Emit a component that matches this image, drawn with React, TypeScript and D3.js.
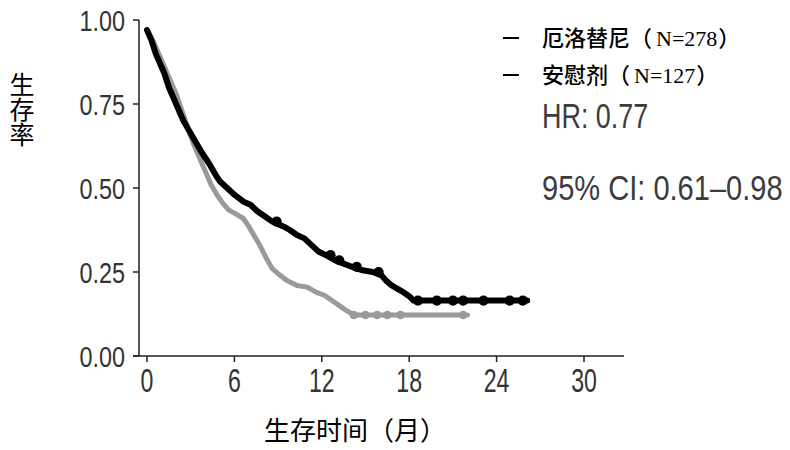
import * as d3 from 'd3'

const W = 790, H = 450

// survival time (months) / survival probability
const erloT = [0, 0.3, 0.6, 0.9, 1.2, 1.5, 1.8, 2.2, 2.5, 2.9, 3.3, 3.7, 4.0, 4.3, 4.7, 5.0, 5.5, 6.0, 6.6, 7.1, 7.6, 8.1, 8.6, 9.4, 9.8, 10.3, 10.8, 11.3, 11.8, 12.3, 12.9, 13.5, 14.1, 14.8, 15.5, 16.1, 16.4, 16.8, 17.2, 17.6, 18.0, 18.3, 26.1]
const erloS = [0.97, 0.94, 0.90, 0.87, 0.84, 0.80, 0.77, 0.73, 0.70, 0.67, 0.64, 0.61, 0.59, 0.57, 0.54, 0.52, 0.50, 0.48, 0.46, 0.45, 0.43, 0.415, 0.40, 0.385, 0.375, 0.36, 0.35, 0.33, 0.31, 0.30, 0.285, 0.275, 0.265, 0.255, 0.25, 0.24, 0.225, 0.21, 0.20, 0.19, 0.178, 0.165, 0.165]
const erloCensor = [8.9, 12.6, 13.2, 14.4, 15.9, 18.6, 19.9, 21.0, 21.7, 23.1, 24.9, 25.8]

const placT = [0, 0.4, 0.8, 1.2, 1.6, 2.0, 2.4, 2.8, 3.2, 3.6, 4.0, 4.4, 4.8, 5.2, 5.6, 6.0, 6.6, 7.0, 7.4, 7.8, 8.2, 8.6, 9.0, 9.6, 10.3, 11.0, 11.6, 12.2, 12.7, 13.2, 13.7, 14.2, 22.0]
const placS = [0.97, 0.94, 0.90, 0.86, 0.82, 0.78, 0.73, 0.68, 0.63, 0.59, 0.55, 0.51, 0.48, 0.455, 0.435, 0.425, 0.41, 0.385, 0.355, 0.325, 0.29, 0.26, 0.245, 0.225, 0.21, 0.205, 0.19, 0.18, 0.165, 0.15, 0.135, 0.122, 0.122]
const placCensor = [14.2, 15.0, 15.8, 16.5, 17.4, 21.7]

const xTicks = [0, 6, 12, 18, 24, 30]
const yTicks = [0, 0.25, 0.5, 0.75, 1]

const LEGEND = [
  { name: '厄洛替尼', n: 'N=278' },
  { name: '安慰剂', n: 'N=127' },
]
const HR_TEXT = 'HR: 0.77'
const CI_TEXT = '95% CI: 0.61–0.98'
const Y_TITLE = '生存率'
const X_TITLE = '生存时间（月）'

const NUM_FONT = 'Liberation Sans, Arial, sans-serif'
const CJK_FONT = '"Noto Sans CJK SC", "Noto Sans", sans-serif'
const SERIF = 'Liberation Serif, Times New Roman, serif'

const x = d3.scaleLinear().domain([0, 30]).range([147, 584])
const y = d3.scaleLinear().domain([0, 1]).range([356, 20])
const AXIS_X = 139

type Pt = [number, number]
const zip = (t: number[], s: number[]): Pt[] => t.map((v, i) => [v, s[i]])

// many small KM steps read as one ragged line at this size
const kmLine = d3.line<Pt>().x(d => x(d[0])).y(d => y(d[1])).curve(d3.curveLinear)

// survival value at time t on the curve
const survAt = (t: number[], s: number[], at: number) => {
  const i = d3.bisectRight(t, at) - 1
  return s[Math.max(0, i)]
}

const SERIES = [
  { t: placT, s: placS, censor: placCensor, color: '#9a9a9a', width: 5 },
  { t: erloT, s: erloS, censor: erloCensor, color: '#000', width: 6 },
]

export default function App() {
  return (
    <svg width={W} height={H} viewBox={`0 0 ${W} ${H}`}
      style={{ position: 'absolute', left: 0, top: 0, background: '#fff' }}>

      {/* ── curves ─────────────────────────────────────────────── */}
      {SERIES.map((sr, si) => (
        <g key={si}>
          <path d={kmLine(zip(sr.t, sr.s)) ?? ''} fill="none" stroke={sr.color}
            strokeWidth={sr.width} strokeLinejoin="round" strokeLinecap="round" />
          {sr.censor.map(c => (
            <circle key={c} cx={x(c)} cy={y(survAt(sr.t, sr.s, c))} r={sr.width * 0.85} fill={sr.color} />
          ))}
        </g>
      ))}

      {/* ── axes ───────────────────────────────────────────────── */}
      <line x1={AXIS_X} x2={AXIS_X} y1={y(1)} y2={y(0)} stroke="#222" strokeWidth={1.5} />
      <line x1={AXIS_X - 6} x2={x(30) + 40} y1={y(0)} y2={y(0)} stroke="#222" strokeWidth={1.5} />

      {yTicks.map(v => (
        <g key={v}>
          <line x1={AXIS_X - 6} x2={AXIS_X} y1={y(v)} y2={y(v)} stroke="#222" strokeWidth={1.5} />
          <text transform={`translate(125,${y(v) + 11}) scale(0.78,1)`} textAnchor="end"
            fontFamily={NUM_FONT} fontSize={30} fill="#333">{d3.format('.2f')(v)}</text>
        </g>
      ))}

      {xTicks.map(v => (
        <g key={v}>
          <line x1={x(v)} x2={x(v)} y1={y(0)} y2={y(0) + 6} stroke="#222" strokeWidth={1.5} />
          <text transform={`translate(${x(v)},392) scale(0.68,1)`} textAnchor="middle"
            fontFamily={NUM_FONT} fontSize={34} fill="#333">{v}</text>
        </g>
      ))}

      {/* ── axis titles ────────────────────────────────────────── */}
      <text x={22} y={72} fontFamily={CJK_FONT} fontSize={25} fill="#000"
        style={{ writingMode: 'vertical-rl' }}>{Y_TITLE}</text>
      <text x={355} y={440} textAnchor="middle" fontFamily={CJK_FONT} fontSize={26} fill="#000">
        {X_TITLE}
      </text>

      {/* ── legend + stats ─────────────────────────────────────── */}
      {LEGEND.map((d, i) => (
        <g key={d.name} transform={`translate(0,${i * 37})`}>
          <line x1={503} x2={519} y1={38} y2={38} stroke="#000" strokeWidth={2} />
          <text x={542} y={46} fontSize={22} fill="#000">
            <tspan fontFamily={CJK_FONT} fontWeight={500}>{d.name}（</tspan>
            <tspan fontFamily={SERIF} dx={4}>{d.n}</tspan>
            <tspan fontFamily={CJK_FONT} fontWeight={500} dx={1}>）</tspan>
          </text>
        </g>
      ))}
      <text transform="translate(542,128) scale(0.77,1)" fontFamily={NUM_FONT} fontSize={35}
        fill="#3c3c3c">{HR_TEXT}</text>
      <text transform="translate(542,200) scale(0.83,1)" fontFamily={NUM_FONT} fontSize={35}
        fill="#3c3c3c">{CI_TEXT}</text>
    </svg>
  )
}
